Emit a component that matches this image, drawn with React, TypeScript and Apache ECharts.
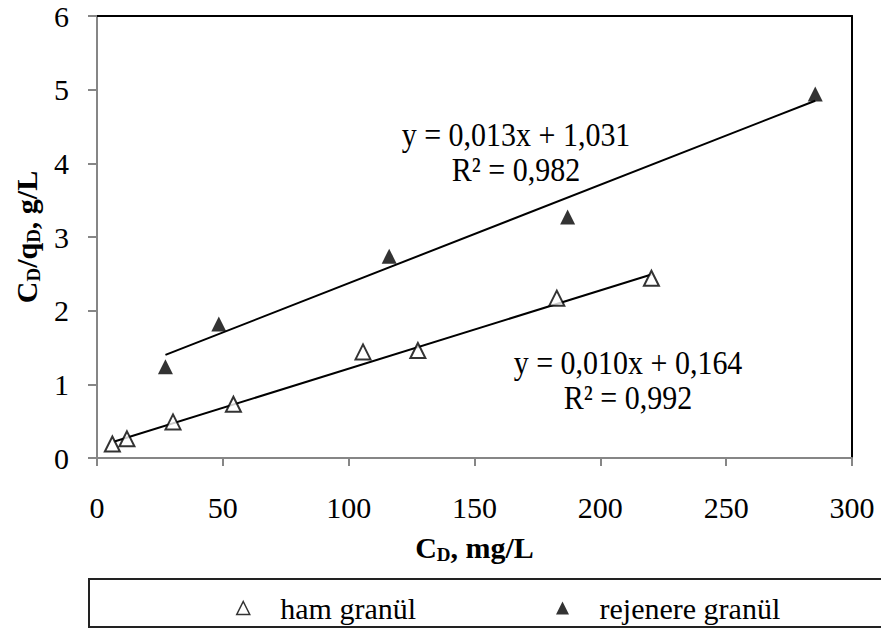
import React, { useEffect, useRef } from "react";
import * as echarts from "echarts";

const seriesNames = ["ham granül", "rejenere granül"];
const hamX = [6.1, 11.9, 30.2, 54.2, 105.7, 127.5, 182.7, 220.3];
const hamY = [0.19, 0.26, 0.49, 0.73, 1.44, 1.46, 2.17, 2.44];
const rejX = [27.2, 48.4, 116.1, 187.0, 285.4];
const rejY = [1.24, 1.82, 2.74, 3.27, 4.94];
const hamTrendX = [6.6, 220.3];
const hamTrendY = [0.22, 2.49];
const rejTrendX = [27.2, 285.4];
const rejTrendY = [1.4, 4.85];
const hamEquation = ["y = 0,010x + 0,164", "R² = 0,992"];
const rejEquation = ["y = 0,013x + 1,031", "R² = 0,982"];
const xRange = [0, 300, 50];
const yRange = [0, 6, 1];

const FONT = "Liberation Serif";
const GRAY = "#868686";
const TRI = "path://M5,0 L10,10 L0,10 Z";

const zip = (a: number[], b: number[]) => a.map((v, i) => [v, b[i]]);

export default function App() {
  const ref = useRef<HTMLDivElement>(null);
  useEffect(() => {
    if (!ref.current) return;
    const chart = echarts.init(ref.current, undefined, { renderer: "svg" });
    const richName = {
      b: { fontSize: 30, fontWeight: "bold", fontFamily: FONT, color: "#000", lineHeight: 34 },
      s: { fontSize: 19, fontWeight: "bold", fontFamily: FONT, color: "#000", lineHeight: 14, verticalAlign: "bottom" },
    };
    const option: any = {
      animation: false,
      backgroundColor: "#fff",
      textStyle: { fontFamily: FONT },
      grid: { left: 97, right: 29, top: 16, bottom: 170, containLabel: false },
      xAxis: [
        {
          type: "value",
          min: xRange[0],
          max: xRange[1],
          interval: xRange[2],
          position: "bottom",
          name: "{b|C}{s|D}{b|, mg/L}",
          nameLocation: "middle",
          nameGap: 72,
          nameTextStyle: { rich: richName },
          axisLine: { show: true, onZero: false, lineStyle: { color: GRAY, width: 2 } },
          axisTick: { show: true, length: 8, lineStyle: { color: GRAY, width: 2 } },
          axisLabel: { fontSize: 30, fontFamily: FONT, color: "#000", margin: 34 },
          splitLine: { show: false },
        },
        {
          type: "value",
          min: xRange[0],
          max: xRange[1],
          position: "top",
          axisLine: { show: true, onZero: false, lineStyle: { color: "#000", width: 2 } },
          axisTick: { show: false },
          axisLabel: { show: false },
          splitLine: { show: false },
        },
      ],
      yAxis: [
        {
          type: "value",
          min: yRange[0],
          max: yRange[1],
          interval: yRange[2],
          position: "left",
          name: "{b|C}{s|D}{b|/q}{s|D}{b|, g/L}",
          nameLocation: "middle",
          nameGap: 50,
          nameTextStyle: { rich: richName },
          axisLine: { show: true, onZero: false, lineStyle: { color: GRAY, width: 2 } },
          axisTick: { show: true, length: 9, lineStyle: { color: GRAY, width: 2 } },
          axisLabel: { fontSize: 30, fontFamily: FONT, color: "#000", margin: 28 },
          splitLine: { show: false },
        },
        {
          type: "value",
          min: yRange[0],
          max: yRange[1],
          position: "right",
          axisLine: { show: true, onZero: false, lineStyle: { color: "#000", width: 2 } },
          axisTick: { show: false },
          axisLabel: { show: false },
          splitLine: { show: false },
        },
      ],
      legend: [
        {
          left: 231,
          top: 588,
          data: [{ name: seriesNames[0], icon: TRI, itemStyle: { color: "#fff", borderColor: "#000", borderWidth: 1.5 } }],
          itemWidth: 64,
          itemHeight: 13,
          textStyle: { fontSize: 30, fontFamily: FONT, color: "#000", lineHeight: 30 },
        },
        {
          left: 551,
          top: 588,
          data: [{ name: seriesNames[1], icon: TRI, itemStyle: { color: "#000", borderColor: "#000", borderWidth: 0 } }],
          itemWidth: 64,
          itemHeight: 13,
          textStyle: { fontSize: 30, fontFamily: FONT, color: "#000", lineHeight: 30 },
        },
      ],
      graphic: [
        {
          type: "rect",
          shape: { x: 89, y: 579, width: 820, height: 48 },
          style: { fill: "none", stroke: "#222", lineWidth: 2 },
          z: 0,
        },
        {
          type: "text",
          x: 516,
          y: 152,
          scaleY: 1.15,
          style: {
            text: rejEquation.join("\n"),
            fontSize: 30,
            fontFamily: FONT,
            fill: "#000",
            align: "center",
            verticalAlign: "middle",
            lineHeight: 30,
          },
        },
        {
          type: "text",
          x: 628,
          y: 380,
          scaleY: 1.15,
          style: {
            text: hamEquation.join("\n"),
            fontSize: 30,
            fontFamily: FONT,
            fill: "#000",
            align: "center",
            verticalAlign: "middle",
            lineHeight: 30,
          },
        },
      ],
      series: [
        {
          name: seriesNames[0] + " trend",
          type: "line",
          data: zip(hamTrendX, hamTrendY),
          symbol: "none",
          lineStyle: { color: "#000", width: 2 },
          z: 2,
        },
        {
          name: seriesNames[1] + " trend",
          type: "line",
          data: zip(rejTrendX, rejTrendY),
          symbol: "none",
          lineStyle: { color: "#000", width: 2 },
          z: 2,
        },
        {
          name: seriesNames[0],
          type: "scatter",
          data: zip(hamX, hamY),
          symbol: "triangle",
          symbolSize: 15,
          itemStyle: { color: "#fff", borderColor: "#000", borderWidth: 2 },
          z: 3,
        },
        {
          name: seriesNames[1],
          type: "scatter",
          data: zip(rejX, rejY),
          symbol: "triangle",
          symbolSize: 15,
          itemStyle: { color: "#000", borderColor: "#000", borderWidth: 0 },
          z: 3,
        },
      ],
    };
    chart.setOption(option);
    return () => chart.dispose();
  }, []);
  return (
    <div
      ref={ref}
      style={{ position: "fixed", left: 0, top: 0, width: 881, height: 628, background: "#fff" }}
    />
  );
}
